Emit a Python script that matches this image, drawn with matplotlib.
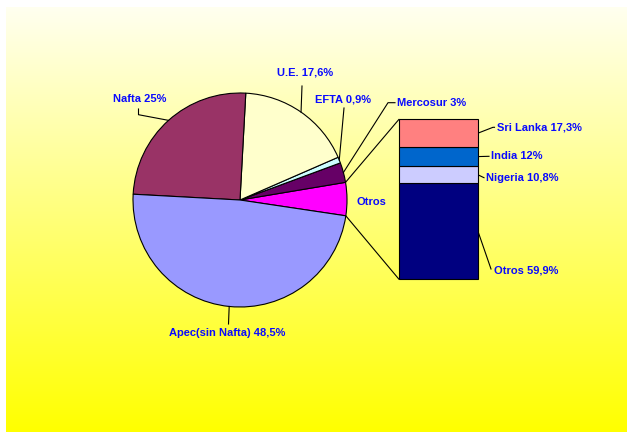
import matplotlib.pyplot as plt
import numpy as np
from matplotlib.patches import ConnectionPatch

plt.rcParams["font.family"] = ["Liberation Sans", "DejaVu Sans"]

W, H = 627, 432

# pie slices, counterclockwise starting with "Otros"
pie_names = ["Otros", "Mercosur", "EFTA", "U.E.", "Nafta", "Apec(sin Nafta)"]
pie_values = [5.0, 3.0, 0.9, 17.6, 25.0, 48.5]
pie_colors = ["#FF00FF", "#660066", "#CCFFFF", "#FFFFCC", "#993366", "#9999FF"]

# breakdown of "Otros", stacked from the bottom
bar_names = ["Otros", "Nigeria", "India", "Sri Lanka"]
bar_values = [59.9, 10.8, 12.0, 17.3]
bar_colors = ["#000080", "#CCCCFF", "#0066CC", "#FF8080"]

BLUE = "#0A0AFF"
LINE = dict(color="black", linewidth=0.8)


def pct(v):
    return f"{v:g}".replace(".", ",") + "%"


def px(x, y):
    # pixel coords measured from the top-left
    return (x, H - y)


fig = plt.figure(figsize=(W / 100, H / 100), dpi=100, facecolor="white")
ax = fig.add_axes([0, 0, 1, 1])
ax.axis("off")

# yellow gradient panel
t = np.linspace(0, 1, 256)
grad = np.ones((256, 1, 3))
grad[:, 0, 2] = 0.94 * (1 - t)
ax.imshow(grad, extent=[6, W, 0, H - 7], aspect="auto", zorder=0)

cx, cy = px(240, 200)
R = 107
wedges, _ = ax.pie(
    pie_values,
    colors=pie_colors,
    startangle=-8.5,
    counterclock=True,
    center=(cx, cy),
    radius=R,
    wedgeprops=dict(edgecolor="black", linewidth=0.8),
    frame=True,
)


def edge(theta):
    a = np.deg2rad(theta)
    return (cx + R * np.cos(a), cy + R * np.sin(a))


# label position (left x, center y) and leader points from the text side
pie_layout = {
    "U.E.": ((276.7, 72.7), [(302, 86)]),
    "Nafta": ((113, 99.3), [(138.5, 109), (138.5, 114.7)]),
    "EFTA": ((315, 99.3), [(344, 108)]),
    "Mercosur": ((396.7, 102.7), [(395, 102.7), (388, 102.7)]),
    "Otros": ((356.7, 201.7), []),
    "Apec(sin Nafta)": ((169, 333), [(228.5, 324)]),
}

for name, val, w in zip(pie_names, pie_values, wedges):
    (tx, ty), via = pie_layout[name]
    text = name if name == "Otros" else f"{name} {pct(val)}"
    ax.text(tx, H - ty, text, ha="left", va="center", fontsize=8,
            fontweight="bold", color=BLUE, zorder=5)
    if via:
        pts = [px(x, y) for x, y in via] + [edge((w.theta1 + w.theta2) / 2)]
        xs, ys = zip(*pts)
        ax.plot(xs, ys, zorder=4, **LINE)

ax.set_xlim(0, W)
ax.set_ylim(0, H)

# stacked bar for "Otros"
bx0, by0, bw, bh = 399, 279.3, 79, 160
bax = fig.add_axes([bx0 / W, (H - by0) / H, bw / W, bh / H])
bax.axis("off")
bottoms = np.concatenate([[0], np.cumsum(bar_values)[:-1]])
bax.bar(0, bar_values, bottom=bottoms, width=1, color=bar_colors,
        edgecolor="black", linewidth=0.8, clip_on=False)
bax.set_xlim(-0.5, 0.5)
bax.set_ylim(0, 100)

# lines joining the "Otros" wedge to the bar
w_otros = wedges[0]
for theta, yb in [(w_otros.theta2, 100), (w_otros.theta1, 0)]:
    con = ConnectionPatch(xyA=edge(theta), coordsA=ax.transData,
                          xyB=(-0.5, yb), coordsB=bax.transData, **LINE)
    fig.add_artist(con)

bar_layout = {
    "Otros": ((494, 270.7), [(491, 269)]),
    "Nigeria": ((486, 177.7), [(484, 177.7)]),
    "India": ((491, 156.3), [(489, 156.3)]),
    "Sri Lanka": ((496.7, 127.3), [(494.5, 127.3), (493, 127.3)]),
}

to_main = bax.transData + ax.transData.inverted()
for name, val, b in zip(bar_names, bar_values, bottoms):
    (tx, ty), via = bar_layout[name]
    ax.text(tx, H - ty, f"{name} {pct(val)}", ha="left", va="center",
            fontsize=8, fontweight="bold", color=BLUE, zorder=5)
    start = to_main.transform((0.5, b + val / 2))
    pts = [tuple(start)] + [px(x, y) for x, y in reversed(via)]
    xs, ys = zip(*pts)
    ax.plot(xs, ys, zorder=4, **LINE)

fig.savefig("out.png", dpi=100, facecolor="white")
